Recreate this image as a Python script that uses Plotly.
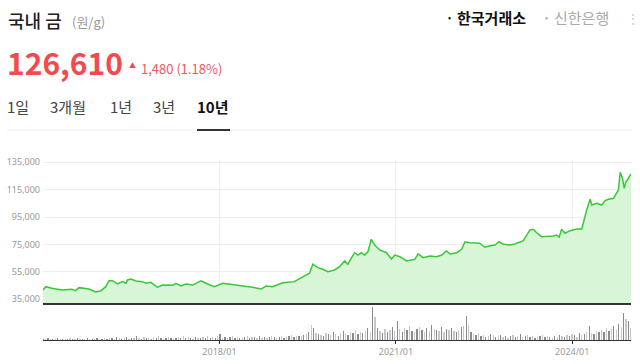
import plotly.graph_objects as go
import pandas as pd

# ---- data ----
price_dates = [
    "2015-01-01", "2015-01-18", "2015-02-25", "2015-04-28", "2015-06-29", "2015-07-22", "2015-08-12",
    "2015-10-13", "2015-11-24", "2015-12-25", "2016-01-26", "2016-02-15", "2016-03-07", "2016-04-08",
    "2016-05-09", "2016-05-30", "2016-06-09", "2016-06-30", "2016-07-31", "2016-09-10", "2016-10-01",
    "2016-11-01", "2016-12-12", "2017-01-13", "2017-03-16", "2017-04-06", "2017-05-07", "2017-06-07",
    "2017-07-18", "2017-09-08", "2017-10-09", "2017-11-29", "2018-01-21", "2018-03-14", "2018-05-25",
    "2018-07-26", "2018-09-16", "2018-10-17", "2018-11-27", "2019-01-29", "2019-04-11", "2019-06-02",
    "2019-07-14", "2019-08-04", "2019-09-04", "2019-10-05", "2019-11-05", "2019-12-16", "2020-01-17",
    "2020-02-17", "2020-03-08", "2020-04-19", "2020-05-10", "2020-05-31", "2020-06-21", "2020-07-11",
    "2020-08-01", "2020-08-22", "2020-09-22", "2020-11-03", "2020-12-04", "2020-12-25", "2021-01-25",
    "2021-03-08", "2021-04-28", "2021-05-19", "2021-06-19", "2021-07-31", "2021-09-11", "2021-10-12",
    "2021-11-12", "2021-12-02", "2022-01-13", "2022-02-13", "2022-03-06", "2022-04-06", "2022-05-06",
    "2022-06-06", "2022-07-08", "2022-08-08", "2022-09-08", "2022-10-03", "2022-10-30", "2022-12-10",
    "2023-01-10", "2023-01-31", "2023-03-03", "2023-03-24", "2023-04-14", "2023-05-04", "2023-05-25",
    "2023-06-25", "2023-08-05", "2023-09-05", "2023-09-26", "2023-10-12", "2023-10-27", "2023-11-17",
    "2023-12-18", "2024-01-29", "2024-02-29", "2024-03-10", "2024-03-31", "2024-04-21", "2024-05-02",
    "2024-06-02", "2024-07-03", "2024-07-24", "2024-08-13", "2024-09-13", "2024-10-04", "2024-10-14",
    "2024-10-25", "2024-11-08", "2024-11-19", "2024-11-29", "2024-12-09", "2024-12-20", "2024-12-31",
]
price_values = [
    41800, 44200, 43000, 41800, 42300, 41300, 43500,
    42500, 40300, 41100, 44200, 48600, 48600, 46200,
    47900, 46700, 49100, 49800, 48400, 47900, 46700,
    47400, 43800, 45400, 45200, 46700, 44700, 46200,
    45400, 48400, 46700, 44200, 46700, 46000, 44700,
    43800, 42500, 44700, 44200, 47100, 47900, 51100,
    54000, 60600, 58100, 56900, 55200, 56400, 58800,
    63000, 60600, 69000, 67300, 69000, 67300, 69700,
    78800, 74600, 71000, 69000, 64400, 67300, 66100,
    63000, 64200, 68100, 65400, 66600, 66100, 67300,
    70300, 68100, 69000, 71500, 77000, 76300, 76300,
    75900, 73000, 74100, 74600, 77000, 75100, 74600,
    75400, 76300, 77800, 81900, 85600, 86100, 83600,
    80700, 80700, 81200, 81900, 80300, 86100, 83200,
    85100, 86300, 86300, 91600, 100200, 108000, 103800,
    105100, 103800, 107000, 108000, 108700, 112800, 114800,
    127700, 123300, 116000, 120800, 122100, 124500, 126610,
]
volume_values = [
    1, 1, 2, 1, 1, 1, 2, 1, 1, 1, 1, 2, 1, 1, 2, 1, 1, 1, 2, 1, 1, 1, 2, 1, 1, 2, 1, 2,
    2, 1, 3, 2, 1, 2, 3, 1, 2, 2, 4, 2, 1, 3, 2, 2, 1, 3, 2, 4, 2, 1, 2, 3, 2, 1, 2, 3, 2, 4, 2, 3, 2, 1, 3, 2, 2,
    3, 2, 4, 2, 3, 2, 4,
    6,
    2, 3, 2, 3, 4, 2, 3, 2, 2, 3, 4, 2, 3, 3, 2, 4, 2, 3, 2, 3, 4, 3, 2, 3, 4, 2, 3, 4, 5, 3, 4, 4,
    4, 5, 6, 8, 15, 12, 7, 6,
    5, 4, 7, 6, 5, 8, 6, 4, 7, 9, 6, 5, 8, 7, 10, 6, 8, 7, 9, 12, 8,
    33, 23, 12,
    9, 7, 11, 8, 10, 13, 9, 19, 11, 8, 12, 10, 14, 9, 8, 11, 13, 10, 8, 12, 9, 15, 11, 10, 9, 13, 8, 11, 10, 12, 9, 8, 10, 13,
    14, 24, 15,
    8, 6, 5, 7, 4, 5, 3, 4, 6, 5, 3, 4, 5, 3, 4, 2, 4, 5, 3, 4, 6, 3, 4, 5, 3, 4, 2, 3, 4, 5, 3, 4, 3, 2, 4, 3, 5, 4, 3, 5,
    4, 6, 5, 3, 7, 5, 6, 8, 14, 7, 6, 9, 8,
    10, 8, 12, 9, 11, 14, 10, 16, 13, 27, 21, 19, 12,
]
volume_dates = pd.date_range("2015-01-01", "2024-12-31", periods=len(volume_values))

year_ticks = ["2018-01-01", "2021-01-01", "2024-01-01"]
year_labels = ["2018/01", "2021/01", "2024/01"]

current_price = "126,610"
change_text = "1,480 (1.18%)"

# ---- layout helpers (pixel -> paper) ----
W, H = 640, 364
L, R, T, B = 43, 9, 160, 24
PW, PH = W - L - R, H - T - B


def px(x):
    return (x - L) / PW


def py(y):
    return (H - B - y) / PH


KR = "Noto Sans CJK KR"
RED = "#f24a4f"
GREEN = "#36c936"

fig = go.Figure()
fig.add_trace(go.Scatter(
    x=price_dates, y=price_values, mode="lines",
    line=dict(color=GREEN, width=1.5),
    fill="tozeroy", fillcolor="#d9f5d7",
    xaxis="x", yaxis="y", hoverinfo="skip",
))
bar_colors = ["#8a8a8a" if i % 2 == 0 else "#c8c8c8" for i in range(len(volume_values))]
fig.add_trace(go.Bar(
    x=volume_dates, y=volume_values, marker=dict(color=bar_colors, line=dict(width=0)),
    width=8 * 86400000, xaxis="x2", yaxis="y2", hoverinfo="skip",
))

x_range = ["2015-01-01", "2024-12-31"]
fig.update_layout(
    width=W, height=H, margin=dict(l=L, r=R, t=T, b=B, autoexpand=False),
    paper_bgcolor="white", plot_bgcolor="white", showlegend=False, bargap=0,
    xaxis=dict(domain=[0, 1], anchor="y", range=x_range, type="date", automargin=False,
               tickvals=year_ticks, showticklabels=False, ticks="",
               showgrid=True, gridcolor="#eeeeee", gridwidth=1,
               showline=True, linecolor="#333333", linewidth=1.5, zeroline=False),
    yaxis=dict(domain=[py(303), 1], anchor="x", range=[32300, 136680], automargin=False,
               tick0=35000, dtick=20000, tickformat=",d",
               showgrid=True, gridcolor="#eeeeee", gridwidth=1, zeroline=False,
               tickfont=dict(family="Noto Sans", size=9, color="#999999"),
               ticks="", ticklabelstandoff=2),
    xaxis2=dict(domain=[0, 1], anchor="y2", range=x_range, type="date", matches="x", automargin=False,
                tickvals=year_ticks, ticktext=year_labels,
                ticks="outside", ticklen=3, tickcolor="#333333",
                tickfont=dict(family="Noto Sans", size=9, color="#999999"),
                showgrid=False, showline=True, linecolor="#333333", linewidth=1, zeroline=False),
    yaxis2=dict(domain=[0, py(306)], anchor="x2", range=[0, 34], automargin=False,
                showticklabels=False, showgrid=False, zeroline=False, ticks=""),
)

ann = []


def text(x, y, s, size, color, bold=False, family=KR, anchor="left", weight=None):
    font = dict(family=family, size=size, color=color)
    if weight:
        font["weight"] = weight
    ann.append(dict(xref="paper", yref="paper", x=px(x), y=py(y), text=f"<b>{s}</b>" if bold else s,
                    showarrow=False, xanchor=anchor, yanchor="middle", font=font))


text(6, 20, "국내 금", 18, "#222222", weight=500)
text(70, 21, "(원/g)", 13, "#999999")
text(5, 62, current_price, 30, RED, bold=True)
text(127, 65, "▲", 7, RED)
text(139, 68, change_text, 13, "#f0585e")
text(5, 106, "1일", 15, "#444444")
text(48, 106, "3개월", 15, "#444444")
text(108, 106, "1년", 15, "#444444")
text(151, 106, "3년", 15, "#444444")
text(195, 106, "10년", 15, "#111111", bold=True)
text(446, 18, "•", 9, "#111111")
text(455, 18, "한국거래소", 15, "#111111", bold=True)
text(543, 18, "•", 9, "#aaaaaa")
text(552, 18, "신한은행", 15, "#aaaaaa")
text(624, 18, "⋮", 14, "#cccccc")
fig.update_layout(annotations=ann)

fig.update_layout(shapes=[
    dict(type="line", xref="paper", yref="paper", x0=px(7), x1=px(632), y0=py(130), y1=py(130),
         line=dict(color="#eeeeee", width=1)),
    dict(type="line", xref="paper", yref="paper", x0=px(197), x1=px(230), y0=py(130), y1=py(130),
         line=dict(color="#333333", width=2)),
])

fig.write_html("out.html", config={"displayModeBar": False, "staticPlot": True},
               post_script="document.body.style.margin='0';document.body.style.overflow='hidden';")
